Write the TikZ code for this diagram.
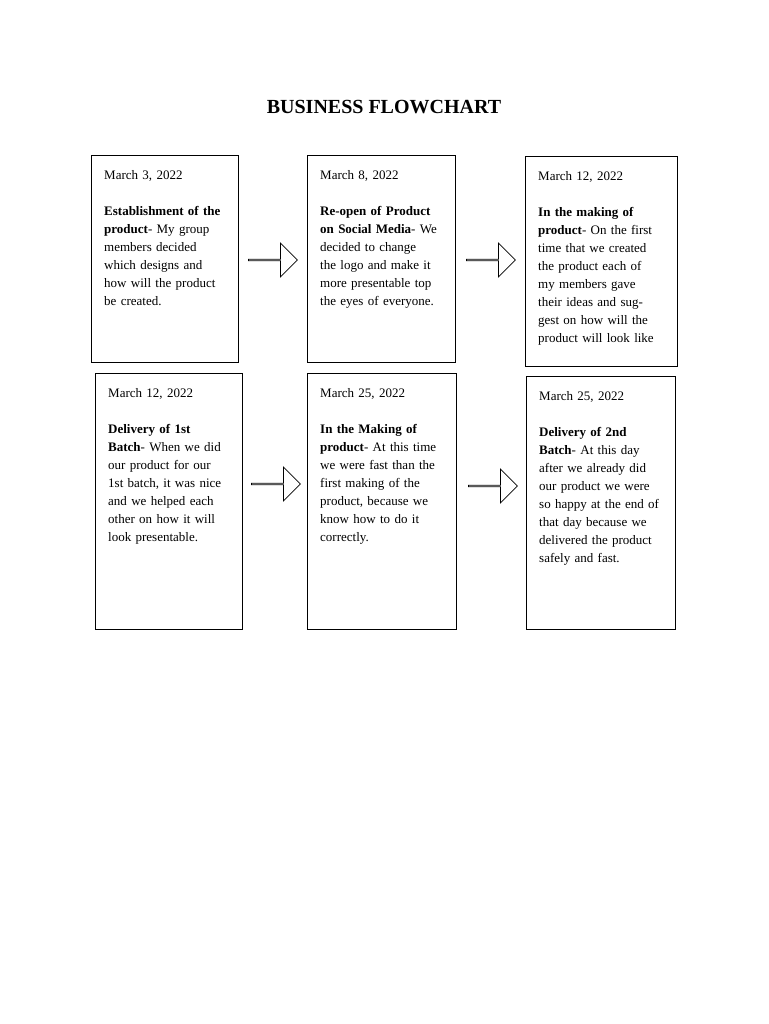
\documentclass[tikz,border=0pt]{standalone}
\usepackage{fontspec}
\setmainfont{Liberation Serif}
\usetikzlibrary{shapes.arrows}
\tikzstyle{stage}=[draw, thick, inner sep=0pt]
\tikzstyle{stagetext}=[anchor=north west, text width=120pt, align=left,
  inner sep=0pt, font=\fontsize{13}{18}\selectfont]
\tikzstyle{blockarrow}=[draw, thick, single arrow, minimum width=34pt,
  minimum height=49pt, single arrow head extend=8pt, inner sep=0pt]
\newcommand{\stage}[6]{\draw[stage] (#1,#2) rectangle (#3,#4);
  \node (s#5) [stagetext] at (#1+13,#2+15) {#6};}
\begin{document}
\begin{tikzpicture}[x=1pt,y=-1pt]
  \useasboundingbox (0,0) rectangle (768,1024);
  \node (title) at (384,107) {\fontsize{20}{24}\selectfont\bfseries BUSINESS FLOWCHART};

  % Draw diagram elements
  \stage{91}{155}{238}{362}{1}{March 3, 2022\\[18pt]\textbf{Establishment of the product}- My group members decided which designs and how will the product be created.}
  \stage{307}{155}{455}{362}{2}{March 8, 2022\\[18pt]\textbf{Re-open of Product on Social Media}- We decided to change the logo and make it more presentable top the eyes of everyone.}
  \stage{525}{156}{677}{366}{3}{March 12, 2022\\[18pt]\textbf{In the making of product}- On the first time that we created the product each of my members gave their ideas and suggest on how will the product will look like}
  \stage{95}{373}{242}{629}{4}{March 12, 2022\\[18pt]\textbf{Delivery of 1st Batch}- When we did our product for our 1st batch, it was nice and we helped each other on how it will look presentable.}
  \stage{307}{373}{456}{629}{5}{March 25, 2022\\[18pt]\textbf{In the Making of product}- At this time we were fast than the first making of the product, because we know how to do it correctly.}
  \stage{526}{376}{675}{629}{6}{March 25, 2022\\[18pt]\textbf{Delivery of 2nd Batch}- At this day after we already did our product we were so happy at the end of that day because we delivered the product safely and fast.}

  \node (a1) [blockarrow] at (272.5,260) {};
  \node (a2) [blockarrow] at (490.5,260) {};
  \node (a3) [blockarrow] at (275.5,484) {};
  \node (a4) [blockarrow] at (492.5,486) {};
\end{tikzpicture}
\end{document}
